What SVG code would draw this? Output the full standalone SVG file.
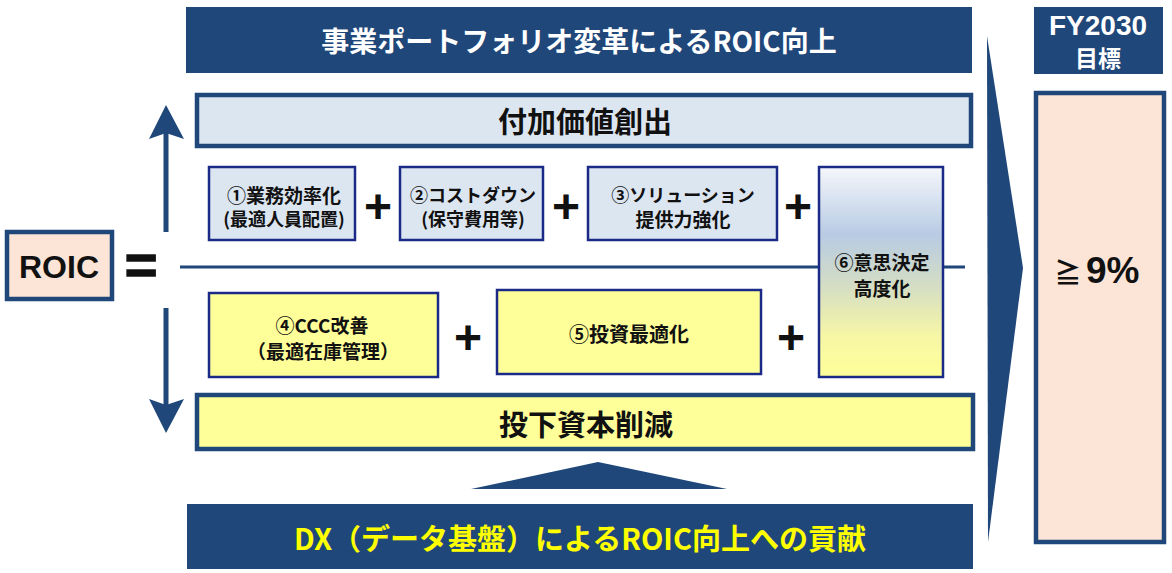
<svg xmlns="http://www.w3.org/2000/svg" width="1172" height="573" viewBox="0 0 1172 573">
<style>
.jp{font-family:"Noto Sans CJK JP","Liberation Sans",sans-serif;font-weight:bold;text-anchor:middle;dominant-baseline:central}
.lat{font-family:"Liberation Sans","Noto Sans CJK JP",sans-serif;font-weight:bold;text-anchor:middle;dominant-baseline:central}
.dark{fill:#1f477a}
.blueBox{fill:#dce6f1;stroke:#1a2a86;stroke-width:2.5}
.yelBox{fill:#ffff99;stroke:#1a2a86;stroke-width:2.5}
.bigBorder{stroke:#1f477a;stroke-width:4.5}
.plus{font-family:"Liberation Sans",sans-serif;font-weight:bold;font-size:48px;text-anchor:middle;dominant-baseline:central;fill:#111}
</style>
<defs>
<linearGradient id="g6" x1="0" y1="0" x2="0" y2="1">
<stop offset="0" stop-color="#f5f7fb"/>
<stop offset="0.32" stop-color="#b8cbe4"/>
<stop offset="0.55" stop-color="#d2dcc6"/>
<stop offset="0.8" stop-color="#f6f6a6"/>
<stop offset="1" stop-color="#ffff99"/>
</linearGradient>
</defs>
<rect width="1172" height="573" fill="#ffffff"/>

<g id="banner-top">
<rect class="dark" x="186" y="7" width="786" height="66"/>
<text class="jp" x="579" y="40" font-size="28" fill="#ffffff">事業ポートフォリオ変革によるROIC向上</text>
</g>

<g id="fy2030">
<rect class="dark" x="1034" y="7" width="129" height="67"/>
<text class="lat" x="1098" y="25" font-size="28" fill="#ffffff">FY2030</text>
<text class="jp" x="1098" y="57" font-size="23" fill="#ffffff">目標</text>
</g>

<g id="chevron">
<polygon class="dark" points="987,36 1023,268 988,542"/>
</g>

<g id="target">
<rect x="1036" y="93" width="128" height="449" fill="#fce5d6" class="bigBorder"/>
<text x="1068" y="283" font-size="27" fill="#111" font-family="Noto Sans CJK JP, sans-serif" font-weight="bold" text-anchor="middle">≧</text>
<text x="1086" y="283" font-size="37" fill="#111" font-family="Liberation Sans, sans-serif" font-weight="bold">9%</text>
</g>

<g id="value-creation">
<rect x="197" y="95" width="774" height="51" fill="#dce6f1" class="bigBorder"/>
<text class="jp" x="585" y="120" font-size="29" fill="#111">付加価値創出</text>
</g>

<g id="capital-reduction">
<rect x="197" y="395" width="776" height="54" fill="#ffff99" class="bigBorder"/>
<text class="jp" x="586" y="423" font-size="29" fill="#111">投下資本削減</text>
</g>

<g id="roic">
<rect x="7" y="232" width="105" height="67" fill="#fce5d6" class="bigBorder"/>
<text class="lat" x="59" y="267" font-size="32" fill="#111">ROIC</text>
</g>

<g id="equals">
<text class="lat" x="141" y="264" font-size="56" fill="#111" stroke="#111" stroke-width="1.5">=</text>
</g>

<g id="connectors">
<line x1="180" y1="267" x2="965" y2="267" stroke="#1f477a" stroke-width="3"/>
<line x1="166" y1="132" x2="166" y2="232" stroke="#1f477a" stroke-width="5"/>
<path d="M166,105 L184,139 L166,133 L149,139 Z" fill="#1f477a"/>
<line x1="166" y1="308" x2="166" y2="406" stroke="#1f477a" stroke-width="5"/>
<path d="M166,433 L184,399 L166,405 L149,399 Z" fill="#1f477a"/>
<polygon points="598,462 727,489 471,489" fill="#1f477a"/>
</g>

<g id="box1">
<rect class="blueBox" x="209" y="167" width="146" height="73"/>
<text class="jp" x="284" y="194" font-size="19" fill="#111">①業務効率化</text>
<text class="jp" x="284" y="218" font-size="18" fill="#111">(最適人員配置)</text>
</g>
<text class="plus" x="378" y="206">+</text>

<g id="box2">
<rect class="blueBox" x="400" y="167" width="143" height="73"/>
<text class="jp" x="473" y="194" font-size="18" fill="#111">②コストダウン</text>
<text class="jp" x="473" y="218" font-size="18" fill="#111">(保守費用等)</text>
</g>
<text class="plus" x="566" y="206">+</text>

<g id="box3">
<rect class="blueBox" x="588" y="167" width="189" height="73"/>
<text class="jp" x="683" y="194" font-size="18" fill="#111">③ソリューション</text>
<text class="jp" x="683" y="218" font-size="19" fill="#111">提供力強化</text>
</g>
<text class="plus" x="798" y="206">+</text>

<g id="box6">
<rect x="819" y="167" width="124" height="210" fill="url(#g6)" stroke="#1a2a86" stroke-width="2.5"/>
<text class="jp" x="882" y="261" font-size="19" fill="#111">⑥意思決定</text>
<text class="jp" x="882" y="287" font-size="19" fill="#111">高度化</text>
</g>

<g id="box4">
<rect class="yelBox" x="209" y="293" width="229" height="84"/>
<text class="jp" x="322" y="324" font-size="19" fill="#111">④CCC改善</text>
<text class="jp" x="323" y="350" font-size="19" fill="#111">（最適在庫管理）</text>
</g>
<text class="plus" x="468" y="337">+</text>

<g id="box5">
<rect class="yelBox" x="497" y="290" width="264" height="84"/>
<text class="jp" x="629" y="333" font-size="20" fill="#111">⑤投資最適化</text>
</g>
<text class="plus" x="791" y="337">+</text>

<g id="banner-dx">
<rect class="dark" x="187" y="504" width="786" height="65"/>
<text class="jp" x="580" y="537" font-size="29" fill="#ffff00">DX（データ基盤）によるROIC向上への貢献</text>
</g>
</svg>
